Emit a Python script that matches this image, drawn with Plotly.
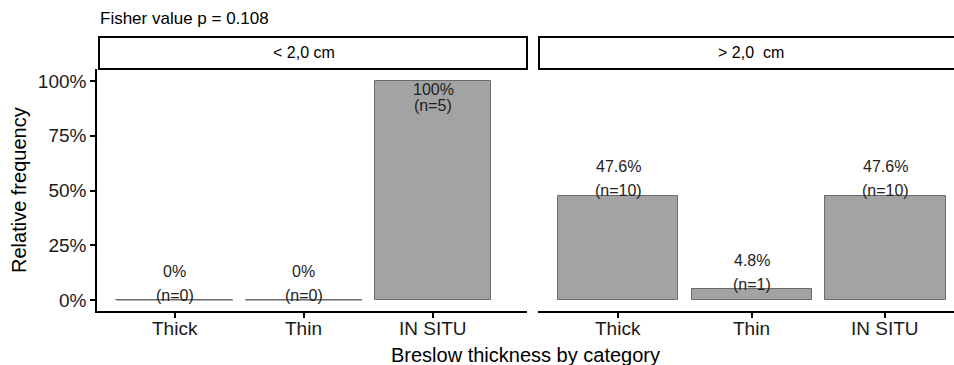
import plotly.graph_objects as go

# ---- data ----
categories = ["Thick", "Thin", "IN SITU"]
panel_labels = ["< 2,0 cm", "> 2,0\u00a0 cm"]
small_pct = [0.0, 0.0, 100.0]      # < 2,0 cm
small_n = [0, 0, 5]
large_pct = [47.6, 4.8, 47.6]      # > 2,0 cm
large_n = [10, 1, 10]
y_ticks = [0, 25, 50, 75, 100]
title_text = "Fisher value p = 0.108"
x_title = "Breslow thickness by category"
y_title = "Relative frequency"

FONT = "Liberation Sans, Arial, sans-serif"
BAR_FILL = "#a3a3a3"
BAR_LINE = "#6b6b6b"
BAR_W = 0.9
W, H = 954, 365
ML, MR, MT, MB = 97, 0, 37, 54
PW, PH = W - ML - MR, H - MT - MB
STRIP_H = 32
YDOM_TOP = (PH - STRIP_H) / PH

def px_x(p):
    return (p - ML) / PW

def px_y(p):
    return (H - MB - p) / PH

fig = go.Figure()
xpos = list(range(len(categories)))

panels = [
    ("x", small_pct, small_n),
    ("x2", large_pct, large_n),
]
annotations = []
shapes = []
for xa, vals, ns in panels:
    fig.add_trace(go.Bar(
        x=xpos, y=vals, xaxis=xa, yaxis="y", width=BAR_W,
        marker=dict(color=BAR_FILL, line=dict(color=BAR_LINE, width=1)),
        showlegend=False, hoverinfo="skip",
    ))
    for i, (v, n) in enumerate(zip(vals, ns)):
        if v == 0:
            shapes.append(dict(type="line", xref=xa, yref="y",
                               x0=i - BAR_W / 2, x1=i + BAR_W / 2, y0=v, y1=v,
                               line=dict(color=BAR_LINE, width=1.2)))
        pct_txt = f"{v:g}%"
        n_txt = f"(n={n})"
        if v >= 99:
            shifts = (-8, -24)
        else:
            shifts = (29, 5)
        for txt, sh in zip((pct_txt, n_txt), shifts):
            annotations.append(dict(
                x=i, y=v, xref=xa, yref="y", text=txt, showarrow=False,
                yanchor="middle", xanchor="center", yshift=sh,
                font=dict(family=FONT, size=16, color="#222"),
            ))
    # category tick labels below each panel
    for i, cat in enumerate(categories):
        annotations.append(dict(
            x=i, y=px_y(328), xref=xa, yref="paper", text=cat, showarrow=False,
            xanchor="center", yanchor="middle",
            font=dict(family=FONT, size=19, color="#1a1a1a"),
        ))

# strips
strip_boxes = [(px_x(99), px_x(527)), (px_x(539), 1.03)]
strip_centers = [px_x(304), px_x(751)]
for (x0, x1), cx, lab in zip(strip_boxes, strip_centers, panel_labels):
    shapes.append(dict(type="rect", xref="paper", yref="paper",
                       x0=x0, x1=x1, y0=YDOM_TOP, y1=1.0,
                       fillcolor="white", line=dict(color="black", width=2)))
    annotations.append(dict(x=cx, y=(1 + YDOM_TOP) / 2, xref="paper", yref="paper",
                            text=lab, showarrow=False, xanchor="center", yanchor="middle",
                            font=dict(family=FONT, size=16, color="black")))

# titles
annotations.append(dict(x=px_x(98), y=px_y(18), xref="paper", yref="paper",
                        text=title_text, showarrow=False, xanchor="left", yanchor="middle",
                        font=dict(family=FONT, size=17, color="black")))
annotations.append(dict(x=px_x(525), y=px_y(355), xref="paper", yref="paper",
                        text=x_title, showarrow=False, xanchor="center", yanchor="middle",
                        font=dict(family=FONT, size=20, color="black")))
annotations.append(dict(x=px_x(19), y=px_y(190), xref="paper", yref="paper",
                        text=y_title, showarrow=False, xanchor="center", yanchor="middle",
                        textangle=-90,
                        font=dict(family=FONT, size=20, color="black")))

axis_common = dict(
    showgrid=False, zeroline=False, showline=True, linecolor="black", linewidth=1.5,
    ticks="outside", ticklen=5, tickwidth=1.5, tickcolor="black",
    tickvals=xpos, showticklabels=False,
)

fig.update_layout(
    width=W, height=H,
    margin=dict(l=ML, r=MR, t=MT, b=MB),
    paper_bgcolor="white", plot_bgcolor="white",
    bargap=0,
    xaxis=dict(domain=[0, px_x(527)], range=[-0.6, 2.726], anchor="y", **axis_common),
    xaxis2=dict(domain=[px_x(538), 1.0], range=[-0.6, 2.513], anchor="y", **axis_common),
    yaxis=dict(domain=[0, YDOM_TOP], range=[-5.02, 105.48], anchor="x",
               tickvals=y_ticks, ticktext=[f"{t}%" for t in y_ticks],
               showgrid=False, zeroline=False, showline=True, linecolor="black", linewidth=1.5,
               ticks="outside", ticklen=5, tickwidth=1.5, tickcolor="black",
               tickfont=dict(family=FONT, size=19, color="#1a1a1a")),
    shapes=shapes,
    annotations=annotations,
)

fig.write_html("out.html")
